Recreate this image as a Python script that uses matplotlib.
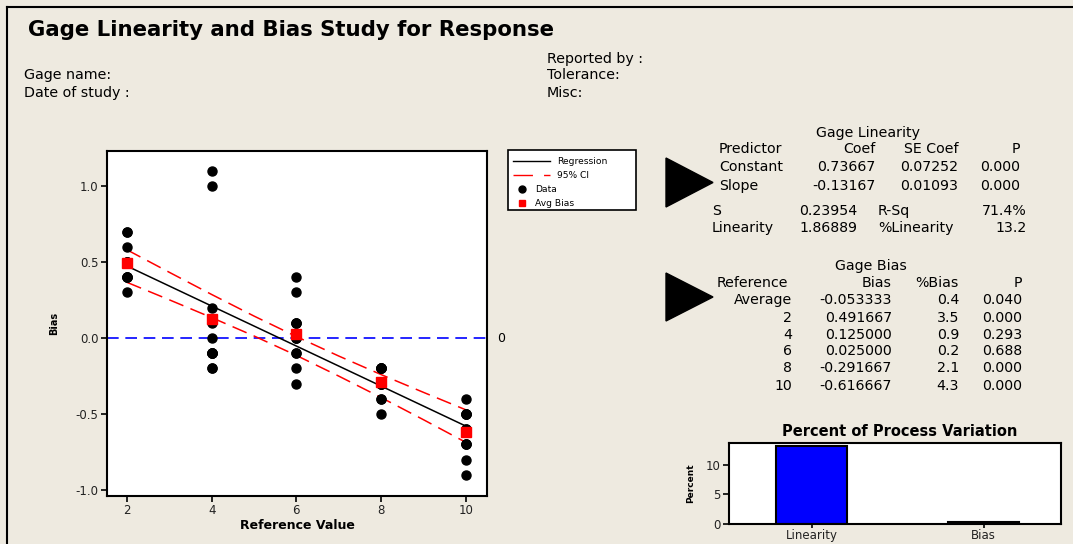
import matplotlib
matplotlib.use("Agg")
import matplotlib.pyplot as plt
from matplotlib.lines import Line2D
from matplotlib.patches import Polygon, Rectangle

plt.rcParams['font.family'] = ['DejaVu Sans']

# ---------------- data ----------------
ref_values = [2, 4, 6, 8, 10]
bias_2 = [0.7, 0.5, 0.4, 0.5, 0.7, 0.3, 0.5, 0.5, 0.4, 0.4, 0.6, 0.4]
bias_4 = [1.1, -0.1, 0.2, 1.0, -0.2, -0.1, -0.1, -0.1, -0.1, 0.0, 0.1, -0.2]
bias_6 = [-0.2, -0.3, -0.1, -0.1, 0.0, 0.1, 0.0, 0.1, 0.4, 0.3, 0.0, 0.1]
bias_8 = [-0.4, -0.3, -0.2, -0.3, -0.2, -0.2, -0.2, -0.3, -0.2, -0.5, -0.4, -0.3]
bias_10 = [-0.9, -0.7, -0.5, -0.7, -0.6, -0.5, -0.5, -0.5, -0.4, -0.8, -0.7, -0.6]
avg_bias = [0.491667, 0.125, 0.025, -0.291667, -0.616667]

reg_x = [2, 10]
reg_y = [0.47333, -0.58]
ci_x = [2, 3, 4, 5, 6, 7, 8, 9, 10]
ci_upper = [0.580, 0.432, 0.286, 0.144, 0.009, -0.119, -0.241, -0.358, -0.473]
ci_lower = [0.366, 0.251, 0.134, 0.013, -0.115, -0.251, -0.392, -0.538, -0.687]

bar_cats = ["Linearity", "Bias"]
bar_vals = [13.2, 0.4]

lin_header = ["Predictor", "Coef", "SE Coef", "P"]
lin_rows = [["Constant", "0.73667", "0.07252", "0.000"],
            ["Slope", "-0.13167", "0.01093", "0.000"]]
lin_stats = [["S", "0.23954", "R-Sq", "71.4%"],
             ["Linearity", "1.86889", "%Linearity", "13.2"]]
bias_header = ["Reference", "Bias", "%Bias", "P"]
bias_rows = [["Average", "-0.053333", "0.4", "0.040"],
             ["2", "0.491667", "3.5", "0.000"],
             ["4", "0.125000", "0.9", "0.293"],
             ["6", "0.025000", "0.2", "0.688"],
             ["8", "-0.291667", "2.1", "0.000"],
             ["10", "-0.616667", "4.3", "0.000"]]

# ---------------- figure ----------------
W, H = 1073, 544
BG = '#EEEAE0'
fig = plt.figure(figsize=(W / 100, H / 100), dpi=100, facecolor=BG)

def fx(px):
    return px / W

def fy(py):
    return 1 - py / H

# border lines
fig.add_artist(Line2D([fx(7), fx(1073)], [fy(7), fy(7)], color='black', lw=1.5))
fig.add_artist(Line2D([fx(7), fx(7)], [fy(7), fy(544)], color='black', lw=1.5))

# header texts
fig.text(fx(28), fy(30), "Gage Linearity and Bias Study for Response",
         fontsize=15.3, fontweight='bold', va='center', ha='left')
hfs = 10.3
fig.text(fx(24), fy(75), "Gage name:", fontsize=hfs, va='center')
fig.text(fx(24), fy(93), "Date of study :", fontsize=hfs, va='center')
fig.text(fx(547), fy(59), "Reported by :", fontsize=hfs, va='center')
fig.text(fx(547), fy(75), "Tolerance:", fontsize=hfs, va='center')
fig.text(fx(547), fy(93), "Misc:", fontsize=hfs, va='center')

# ---------------- main axes ----------------
ax = fig.add_axes([fx(107), fy(496), fx(487) - fx(107), fy(151) - fy(496)])
ax.set_facecolor('white')
series = [bias_2, bias_4, bias_6, bias_8, bias_10]
for xv, ys in zip(ref_values, series):
    ax.plot([xv] * len(ys), ys, 'o', color='black', markersize=6.5, zorder=3,
            linestyle='none')
ax.axhline(0, color='blue', lw=1.2, dashes=(7, 4), zorder=1)
ax.plot(reg_x, reg_y, color='black', lw=1.1, zorder=2)
ax.plot(ci_x, ci_upper, color='red', lw=1.1, dashes=(10, 5), zorder=2)
ax.plot(ci_x, ci_lower, color='red', lw=1.1, dashes=(10, 5), zorder=2)
ax.plot(ref_values, avg_bias, 's', color='red', markersize=7, zorder=4,
        linestyle='none')
ax.set_xlim(1.53, 10.5)
ax.set_ylim(-1.04, 1.23)
ax.set_xticks(ref_values)
ax.set_yticks([-1.0, -0.5, 0.0, 0.5, 1.0])
ax.set_yticklabels(["-1.0", "-0.5", "0.0", "0.5", "1.0"])
ax.tick_params(direction='out', length=4, width=1.2, labelsize=8.5, pad=2,
               colors='black', labelcolor='#222222')
for s in ax.spines.values():
    s.set_linewidth(1.5)
ax.set_xlabel("Reference Value", fontsize=9, fontweight='bold', labelpad=1)
ax.set_ylabel("Bias", fontsize=7, fontweight='bold', labelpad=12)
fig.text(fx(497), fy(338), "0", fontsize=9, va='center', ha='left')

# legend (drawn manually to match the boxed key)
fig.add_artist(Rectangle((fx(508), fy(210)), fx(636) - fx(508), fy(150) - fy(210),
                         transform=fig.transFigure, facecolor='white',
                         edgecolor='black', lw=1.2))
lfs = 6.6
fig.add_artist(Line2D([fx(513), fx(550)], [fy(161), fy(161)], color='black', lw=1))
fig.add_artist(Line2D([fx(513), fx(550)], [fy(175), fy(175)], color='red', lw=1,
                      dashes=(14, 8)))
fig.add_artist(Line2D([fx(522)], [fy(189)], marker='o', color='black',
                      markersize=5, linestyle='none'))
fig.add_artist(Line2D([fx(522)], [fy(203)], marker='s', color='red',
                      markersize=5, linestyle='none'))
fig.text(fx(557), fy(161), "Regression", fontsize=lfs, va='center')
fig.text(fx(557), fy(175), "95% CI", fontsize=lfs, va='center')
fig.text(fx(535), fy(189), "Data", fontsize=lfs, va='center')
fig.text(fx(535), fy(203), "Avg Bias", fontsize=lfs, va='center')

# ---------------- tables ----------------
tfs = 10.2
for (x0, x1, y0, y1) in [(666, 713, 158, 207), (666, 713, 273, 321)]:
    tri = Polygon([[fx(x0), fy(y0)], [fx(x1), fy((y0 + y1) / 2)], [fx(x0), fy(y1)]],
                  closed=True, color='black', transform=fig.transFigure)
    fig.add_artist(tri)

fig.text(fx(868), fy(133), "Gage Linearity", fontsize=tfs, ha='center', va='center')
lin_x = [(719, 'left'), (876, 'right'), (958, 'right'), (1020, 'right')]
rows = [lin_header] + lin_rows
for r, yy in zip(rows, [149, 167, 186]):
    for txt, (xx, ha) in zip(r, lin_x):
        fig.text(fx(xx), fy(yy), txt, fontsize=tfs, ha=ha, va='center')
stat_x = [(712, 'left'), (857, 'right'), (878, 'left'), (1027, 'right')]
for r, yy in zip(lin_stats, [211, 228]):
    for txt, (xx, ha) in zip(r, stat_x):
        fig.text(fx(xx), fy(yy), txt, fontsize=tfs, ha=ha, va='center')

fig.text(fx(871), fy(266), "Gage Bias", fontsize=tfs, ha='center', va='center')
bias_x = [(792, 'right'), (892, 'right'), (959, 'right'), (1022, 'right')]
fig.text(fx(717), fy(283), bias_header[0], fontsize=tfs, ha='left', va='center')
for txt, (xx, ha) in zip(bias_header[1:], bias_x[1:]):
    fig.text(fx(xx), fy(283), txt, fontsize=tfs, ha=ha, va='center')
for r, yy in zip(bias_rows, [300, 318, 335, 351, 368, 386]):
    for txt, (xx, ha) in zip(r, bias_x):
        fig.text(fx(xx), fy(yy), txt, fontsize=tfs, ha=ha, va='center')

# ---------------- bar chart ----------------
bx = fig.add_axes([fx(729), fy(524), fx(1061) - fx(729), fy(443) - fy(524)])
bx.set_facecolor('white')
bx.bar([0, 1], bar_vals, width=0.41, color='blue', edgecolor='black', lw=1.5)
bx.set_xlim(-0.48, 1.45)
bx.set_ylim(0, 13.7)
bx.set_xticks([0, 1])
bx.set_xticklabels(bar_cats)
bx.set_yticks([0, 5, 10])
bx.tick_params(direction='out', length=4, width=1.2, labelsize=8.5, pad=2,
               labelcolor='#222222')
bx.tick_params(axis='x', length=3, pad=0.5)
for s in bx.spines.values():
    s.set_linewidth(1.5)
bx.set_ylabel("Percent", fontsize=6.5, fontweight='bold', labelpad=8)
fig.text(fx(900), fy(431), "Percent of Process Variation", fontsize=10.5,
         fontweight='bold', ha='center', va='center')

fig.savefig("out.png", dpi=100, facecolor=BG)
